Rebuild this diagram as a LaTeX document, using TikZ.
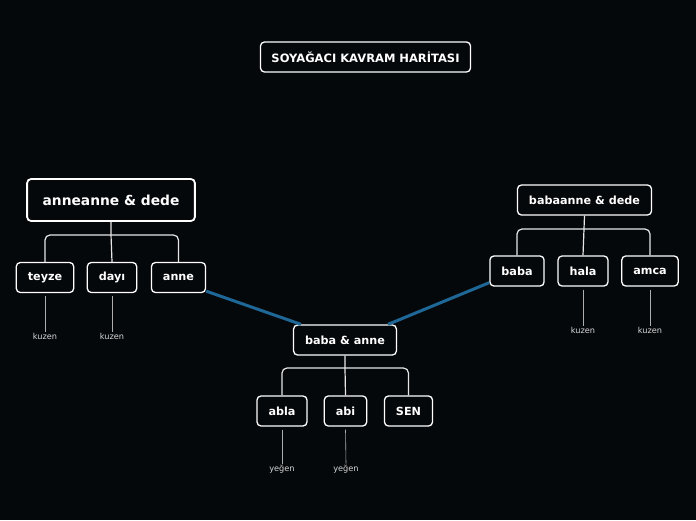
\documentclass[tikz,border=0pt]{standalone}
\usepackage{fontspec}
\setmainfont{DejaVu Sans}
\usetikzlibrary{positioning,calc}
\definecolor{Night}{HTML}{05080B}
\definecolor{Link}{HTML}{1E6796}
\definecolor{Twig}{HTML}{E6E6E6}
\definecolor{Note}{HTML}{D8D8D8}
\tikzset{
  map node/.style={draw=white,line width=1.3pt,fill=Night,rounded corners=4pt,
    align=center,minimum height=30pt,inner xsep=11.5pt,font=\fontsize{11.2}{13}\selectfont\bfseries,
    text=white},
  map title/.style={map node,inner xsep=11pt,font=\fontsize{11.5}{13}\selectfont\bfseries},
  map root/.style={map node,line width=1.8pt,minimum height=42pt,inner xsep=15.5pt,
    font=\fontsize{13.8}{15}\selectfont\bfseries},
  map note/.style={text=Note,font=\fontsize{8.2}{9}\selectfont,inner sep=1pt},
  map tree/.style={draw=Twig,line width=1.2pt,rounded corners=5pt},
  map leaf/.style={draw=Note!80!black,line width=.6pt},
  map link/.style={draw=Link,line width=3pt}
}

\begin{document}
\begin{tikzpicture}[x=1pt,y=-1pt]
  \fill[Night] (0,0) rectangle (696,520);
  \useasboundingbox (0,0) rectangle (696,520);
  \node[map title] (title) at (365.5,57) {SOYAĞACI KAVRAM HARİTASI};
  % mother side
  \node[map root] (granny) at (111,200) {anneanne \& dede};
  \node[map node] (teyze) at (45,277.5) {teyze};
  \node[map node] (dayi) at (112,277.5) {dayı};
  \node[map node] (anne) at (178.5,277.5) {anne};
  \node[map note] (kuzen1) at (45,336) {kuzen};
  \node[map note] (kuzen2) at (112,336) {kuzen};
  \coordinate (bar1) at (111,235);
  \draw[map tree] (teyze.north) |- (bar1) -| (anne.north);
  \draw[map tree] (granny.south) -- (bar1) -- (dayi.north);
  \draw[map leaf] ($(teyze.south)+(0,3)$) -- (kuzen1.north);
  \draw[map leaf] ($(dayi.south)+(0,3)$) -- (kuzen2.north);
  % father side
  \node[map node] (grandpa) at (584.5,200) {babaanne \& dede};
  \node[map node] (baba) at (517,271) {baba};
  \node[map node] (hala) at (583,271) {hala};
  \node[map node] (amca) at (650,271) {amca};
  \node[map note] (kuzen3) at (583,330) {kuzen};
  \node[map note] (kuzen4) at (650,330) {kuzen};
  \coordinate (bar2) at (584,229);
  \draw[map tree] (baba.north) |- (bar2) -| (amca.north);
  \draw[map tree] (grandpa.south) -- (bar2) -- (hala.north);
  \draw[map leaf] ($(hala.south)+(0,3)$) -- (kuzen3.north);
  \draw[map leaf] ($(amca.south)+(0,3)$) -- (kuzen4.north);
  % parents and children
  \node[map node] (parents) at (345,340) {baba \& anne};
  \node[map node] (abla) at (282,411) {abla};
  \node[map node] (abi) at (345.5,411) {abi};
  \node[map node] (sen) at (408.5,411) {SEN};
  \node[map note] (yegen1) at (282,469) {yeğen};
  \node[map note] (yegen2) at (346,469) {yeğen};
  \coordinate (bar3) at (345,368);
  \draw[map tree] (abla.north) |- (bar3) -| (sen.north);
  \draw[map tree] (parents.south) -- (bar3) -- (abi.north);
  \draw[map leaf] ($(abla.south)+(0,3)$) -- (yegen1.north);
  \draw[map leaf] ($(abi.south)+(0,3)$) -- (yegen2.north);
  % links
  \draw[map link] (anne.south east) ++(0,-2) -- ($(parents.north west)+(8,0)$);
  \draw[map link] (baba.south west) ++(0,-4) -- ($(parents.north east)+(-9,0)$);
\end{tikzpicture}
\end{document}
